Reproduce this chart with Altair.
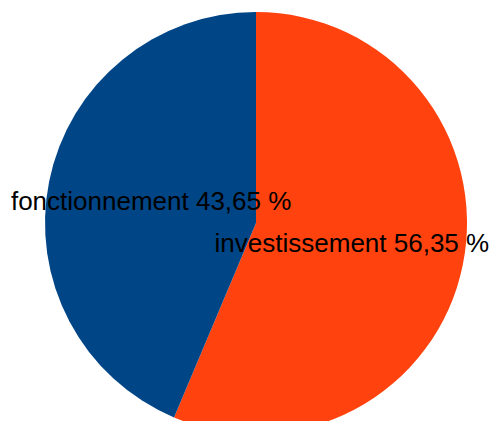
import altair as alt
import pandas as pd

categories = ["investissement", "fonctionnement"]
values = [56.35, 43.65]
labels = ["investissement 56,35 %", "fonctionnement 43,65 %"]
colors = ["#ff420e", "#004586"]

df = pd.DataFrame({"cat": categories, "val": values, "label": labels, "ord": [0, 1]})

base = alt.Chart(df).encode(
    theta=alt.Theta("val:Q", stack=True),
    order=alt.Order("ord:Q"),
)

pie = base.mark_arc(radius=211, stroke=None).encode(
    x=alt.value(248),
    y=alt.value(215),
    color=alt.Color("cat:N", scale=alt.Scale(domain=categories, range=colors), legend=None),
)

text_style = dict(radius=107, font="Liberation Sans", fontSize=26, color="black",
                  align="center", baseline="middle")

text_left = base.mark_text(**text_style).encode(
    x=alt.value(248),
    y=alt.value(215),
    text="label:N",
    opacity=alt.condition(alt.datum.cat == "fonctionnement", alt.value(1), alt.value(0)),
)

# the right label is nudged inward so it stays inside the window
text_right = base.mark_text(dx=-9, **text_style).encode(
    x=alt.value(248),
    y=alt.value(215),
    text="label:N",
    opacity=alt.condition(alt.datum.cat == "investissement", alt.value(1), alt.value(0)),
)

chart = (pie + text_left + text_right).properties(
    width=481, height=413, padding=0, autosize=alt.AutoSizeParams(type="none")
).configure_view(stroke=None)

chart.save("out.html", embed_options={"renderer": "svg", "actions": False})
